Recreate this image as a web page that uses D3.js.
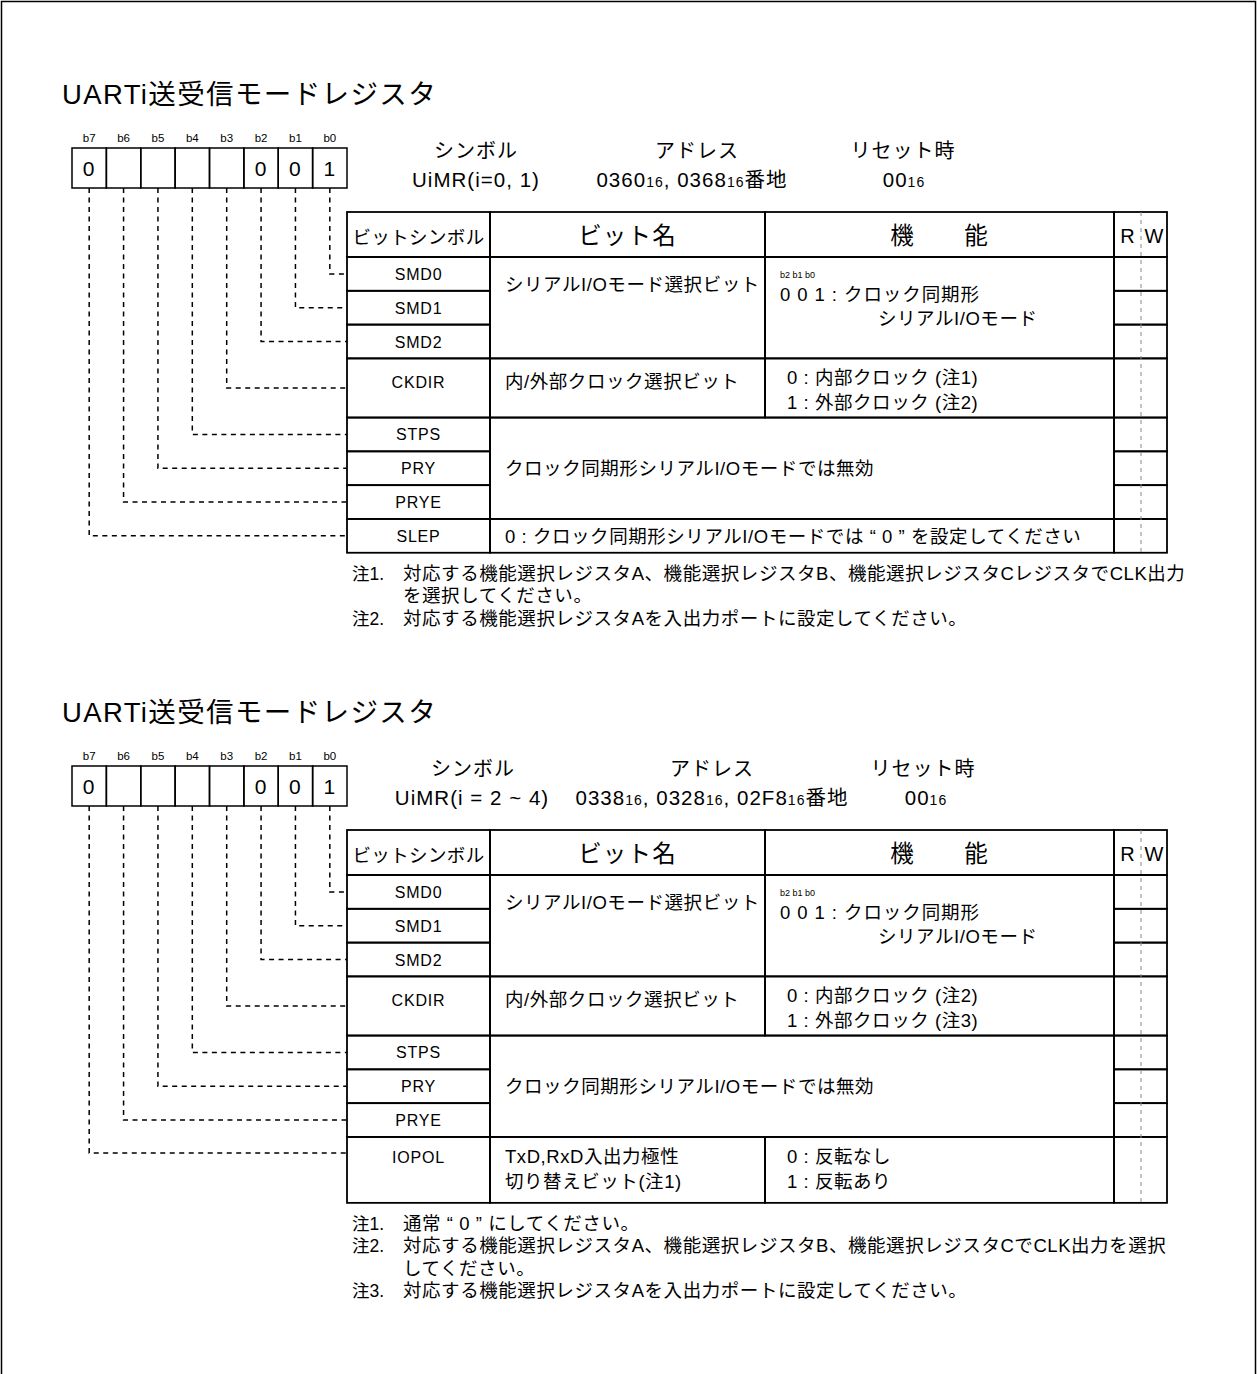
<!DOCTYPE html>
<html><head><meta charset="utf-8">
<script src="https://cdn.jsdelivr.net/npm/d3@7"></script>
<style>
body{margin:0;background:#fff;}
svg text{font-family:"Liberation Sans",Arial,"Noto Sans CJK JP",sans-serif;fill:#000;letter-spacing:0.05em;}
svg text.jp{letter-spacing:0.03em;}
</style></head><body>
<svg id="c" width="1257" height="1374"></svg>
<script>
// ---------------- data ----------------
const bitLabels = ["b7","b6","b5","b4","b3","b2","b1","b0"];
const titles = ["UARTi送受信モードレジスタ","UARTi送受信モードレジスタ"];
const bitValues1 = ["0","","","","","0","0","1"];
const bitValues2 = ["0","","","","","0","0","1"];
const infoHeaders = ["シンボル","アドレス","リセット時"];
const symbolText1 = [["UiMR(i=0, 1)",""]];
const addressText1 = [["0360","16"],[", 0368","16"],["番地",""]];
const resetText1 = [["00","16"]];
const symbolText2 = [["UiMR(i = 2 ~ 4)",""]];
const addressText2 = [["0338","16"],[", 0328","16"],[", 02F8","16"],["番地",""]];
const resetText2 = [["00","16"]];
const tableHeaders = ["ビットシンボル","ビット名","機　　能","R","W"];
const rowSymbols1 = ["SMD0","SMD1","SMD2","CKDIR","STPS","PRY","PRYE","SLEP"];
const rowSymbols2 = ["SMD0","SMD1","SMD2","CKDIR","STPS","PRY","PRYE","IOPOL"];
const rowBits = ["b0","b1","b2","b3","b4","b5","b6","b7"];
const modeCaption = "b2 b1 b0";
const modeLines = ["0 0 1 : クロック同期形","シリアルI/Oモード"];
const nameCells1 = [{from:0,to:2,lines:["シリアルI/Oモード選択ビット"]},{from:3,to:3,lines:["内/外部クロック選択ビット"]}];
const funcCells1 = [{from:0,to:2,mode:true},{from:3,to:3,lines:["0 : 内部クロック (注1)","1 : 外部クロック (注2)"]}];
const spanCells1 = [{from:4,to:6,lines:["クロック同期形シリアルI/Oモードでは無効"]},{from:7,to:7,lines:["0 : クロック同期形シリアルI/Oモードでは “ 0 ” を設定してください"]}];
const nameCells2 = [{from:0,to:2,lines:["シリアルI/Oモード選択ビット"]},{from:3,to:3,lines:["内/外部クロック選択ビット"]},{from:7,to:7,lines:["TxD,RxD入出力極性","切り替えビット(注1)"]}];
const funcCells2 = [{from:0,to:2,mode:true},{from:3,to:3,lines:["0 : 内部クロック (注2)","1 : 外部クロック (注3)"]},{from:7,to:7,lines:["0 : 反転なし","1 : 反転あり"]}];
const spanCells2 = [{from:4,to:6,lines:["クロック同期形シリアルI/Oモードでは無効"]}];
const notes1 = [["注1.","対応する機能選択レジスタA、機能選択レジスタB、機能選択レジスタCレジスタでCLK出力"],["","を選択してください。"],["注2.","対応する機能選択レジスタAを入出力ポートに設定してください。"]];
const notes2 = [["注1.","通常 “ 0 ” にしてください。"],["注2.","対応する機能選択レジスタA、機能選択レジスタB、機能選択レジスタCでCLK出力を選択"],["","してください。"],["注3.","対応する機能選択レジスタAを入出力ポートに設定してください。"]];

// ---------------- layout ----------------
const L = {
  titleX:62, titleY:104,
  boxX0:72, boxX1:347, boxTop:148, boxBottom:188, bitLabelY:142, digitY:176,
  infoHeadY:158, infoValY:187,
  tableTop:212, headerH:45, unit:33.8,
  cols:[347,490,765,1114,1141,1167],
  noteLabelX:352, noteTextX:403, noteGap:27, noteStep:22.5,
  jpSize:18.5
};
const sections = [
  {dy:0, title:titles[0], bits:bitValues1, info:[symbolText1,addressText1,resetText1],
   infoX:[[476,476],[697,692],[903,904]], rows:rowSymbols1, units:[1,1,1,1.75,1,1,1,1],
   names:nameCells1, funcs:funcCells1, spans:spanCells1, notes:notes1},
  {dy:618, title:titles[1], bits:bitValues2, info:[symbolText2,addressText2,resetText2],
   infoX:[[473,472],[712,712],[923,926]], rows:rowSymbols2, units:[1,1,1,1.75,1,1,1,1.95],
   names:nameCells2, funcs:funcCells2, spans:spanCells2, notes:notes2}
];

const svg = d3.select("#c");
svg.append("rect").attr("x",1.5).attr("y",1.5).attr("width",1254).attr("height",1400)
  .attr("fill","none").attr("stroke","#000").attr("stroke-width",1.5);

function drawSection(sec){
  const g = svg.append("g").attr("transform",`translate(0,${sec.dy})`);
  g.append("text").attr("x",L.titleX).attr("y",L.titleY).attr("font-size",27.5).text(sec.title);

  // bit boxes
  const xb = d3.scaleBand().domain(bitLabels).range([L.boxX0,L.boxX1]);
  const bw = xb.bandwidth();
  g.selectAll("text.bl").data(bitLabels).join("text").attr("class","bl")
    .attr("x",d=>xb(d)+bw/2).attr("y",L.bitLabelY).attr("text-anchor","middle")
    .attr("font-size",11.5).style("letter-spacing","0").text(d=>d);
  g.selectAll("rect.bc").data(bitLabels).join("rect").attr("class","bc")
    .attr("x",d=>xb(d)).attr("y",L.boxTop).attr("width",bw).attr("height",L.boxBottom-L.boxTop)
    .attr("fill","none").attr("stroke","#000").attr("stroke-width",1.5);
  g.selectAll("text.bv").data(bitLabels).join("text").attr("class","bv")
    .attr("x",d=>xb(d)+bw/2).attr("y",L.digitY).attr("text-anchor","middle")
    .attr("font-size",21).text((d,i)=>sec.bits[i]);

  // info headers
  infoHeaders.forEach((h,i)=>{
    g.append("text").attr("x",sec.infoX[i][0]).attr("y",L.infoHeadY).attr("text-anchor","middle")
      .attr("font-size",20).text(h);
    const t = g.append("text").attr("x",sec.infoX[i][1]).attr("y",L.infoValY).attr("text-anchor","middle")
      .attr("font-size",20.5);
    sec.info[i].forEach(p=>{
      t.append("tspan").text(p[0]);
      if(p[1]) t.append("tspan").attr("font-size",14).text(p[1]);
    });
  });

  // table geometry
  const cum = [0, ...d3.cumsum(sec.units)];
  const total = cum[cum.length-1];
  const y0 = L.tableTop + L.headerH;
  const yU = d3.scaleLinear().domain([0,total]).range([y0, y0+total*L.unit]);
  const top = i=>yU(cum[i]), bot = i=>yU(cum[i+1]);
  const C = L.cols;
  const tableBottom = yU(total);

  // connectors
  const conY = i => sec.units[i] > 1.9 ? top(i)+16 : (top(i)+bot(i))/2;
  g.selectAll("path.cn").data(sec.rows).join("path").attr("class","cn")
    .attr("d",(d,i)=>`M${xb(rowBits[i])+bw/2},${L.boxBottom}V${conY(i)}H${C[0]}`)
    .attr("fill","none").attr("stroke","#000").attr("stroke-width",1.5).attr("stroke-dasharray","5,4.5");

  const cell = (x0,x1,ya,yb)=>g.append("rect").attr("x",x0).attr("y",ya).attr("width",x1-x0).attr("height",yb-ya)
    .attr("fill","none").attr("stroke","#000").attr("stroke-width",1.8);

  // header
  [[0,1],[1,2],[2,3],[3,5]].forEach(p=>cell(C[p[0]],C[p[1]],L.tableTop,y0));
  const hy = L.tableTop+32;
  g.append("text").attr("x",(C[0]+C[1])/2).attr("y",hy).attr("text-anchor","middle").attr("font-size",18.5).style("letter-spacing","0.02em").text(tableHeaders[0]);
  g.append("text").attr("x",(C[1]+C[2])/2).attr("y",hy).attr("text-anchor","middle").attr("font-size",23.5).text(tableHeaders[1]);
  g.append("text").attr("x",(C[2]+C[3])/2).attr("y",hy).attr("text-anchor","middle").attr("font-size",23.5).text(tableHeaders[2]);
  g.append("text").attr("x",(C[3]+C[4])/2).attr("y",hy-1).attr("text-anchor","middle").attr("font-size",20).style("letter-spacing","0").text(tableHeaders[3]);
  g.append("text").attr("x",(C[4]+C[5])/2).attr("y",hy-1).attr("text-anchor","middle").attr("font-size",20).style("letter-spacing","0").text(tableHeaders[4]);

  // symbol cells + R/W cells
  sec.rows.forEach((s,i)=>{
    cell(C[0],C[1],top(i),bot(i));
    cell(C[3],C[5],top(i),bot(i));
    const tall = sec.units[i] > 1.2;
    const ty = tall ? (sec.units[i] > 1.9 ? top(i)+26 : top(i)+30) : (top(i)+bot(i))/2+6;
    g.append("text").attr("x",(C[0]+C[1])/2).attr("y",ty)
      .attr("text-anchor","middle").attr("font-size",16).text(s);
  });

  // bit name cells
  sec.names.forEach(c=>{
    cell(C[1],C[2],top(c.from),bot(c.to));
    const by = c.from===c.to ? (sec.units[c.from] > 1.9 ? top(c.from)+26 : top(c.from)+30) : top(c.from)+34;
    c.lines.forEach((ln,k)=>g.append("text").attr("class","jp").attr("x",C[1]+15).attr("y",by+k*25)
      .attr("font-size",L.jpSize).text(ln));
  });
  // function cells
  sec.funcs.forEach(c=>{
    cell(C[2],C[3],top(c.from),bot(c.to));
    if(c.mode){
      g.append("text").attr("x",C[2]+15).attr("y",top(c.from)+21).attr("font-size",9).style("letter-spacing","0").text(modeCaption);
      g.append("text").attr("class","jp").attr("x",C[2]+15).attr("y",top(c.from)+44).attr("font-size",L.jpSize).style("letter-spacing","0.05em").text(modeLines[0]);
      g.append("text").attr("class","jp").attr("x",C[2]+113).attr("y",top(c.from)+68).attr("font-size",L.jpSize).text(modeLines[1]);
    } else {
      const by = sec.units[c.from] > 1.9 ? top(c.from)+26 : top(c.from)+26;
      c.lines.forEach((ln,k)=>g.append("text").attr("class","jp").attr("x",C[2]+22).attr("y",by+k*25)
        .attr("font-size",L.jpSize).text(ln));
    }
  });
  // merged cells over name+function columns
  sec.spans.forEach(c=>{
    cell(C[1],C[3],top(c.from),bot(c.to));
    c.lines.forEach(ln=>g.append("text").attr("class","jp").attr("x",C[1]+15).attr("y",(top(c.from)+bot(c.to))/2+7)
      .attr("font-size",L.jpSize).text(ln));
  });

  // R/W dashed separator
  g.append("line").attr("x1",C[4]).attr("x2",C[4]).attr("y1",L.tableTop).attr("y2",tableBottom)
    .attr("stroke","#888").attr("stroke-width",1).attr("stroke-dasharray","4,4");

  // notes
  sec.notes.forEach((n,k)=>{
    const y = tableBottom + L.noteGap + k*L.noteStep;
    if(n[0]) g.append("text").attr("x",L.noteLabelX).attr("y",y).attr("font-size",17.5).style("letter-spacing","0").text(n[0]);
    g.append("text").attr("class","jp").attr("x",L.noteTextX).attr("y",y).attr("font-size",L.jpSize).text(n[1]);
  });
}
sections.forEach(drawSection);
</script>
</body></html>
